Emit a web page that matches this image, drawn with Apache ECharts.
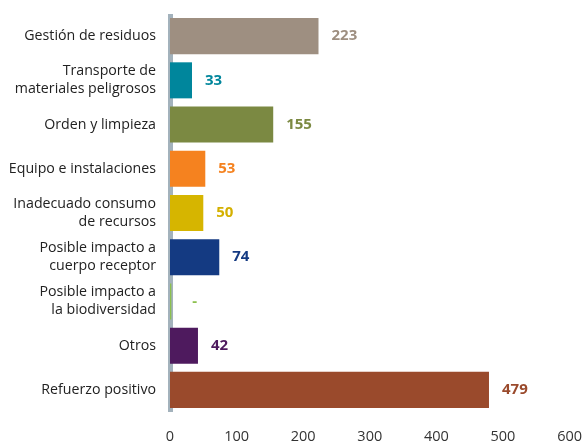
<!DOCTYPE html>
<html><head><meta charset="utf-8">
<script src="https://cdn.jsdelivr.net/npm/echarts@6/dist/echarts.min.js"></script>
<style>html,body{margin:0;padding:0;background:#fff}#c{width:585px;height:446px}</style>
</head><body><div id="c"></div>
<script>
const categories = ["Gestión de residuos","Transporte de\nmateriales peligrosos","Orden y limpieza","Equipo e instalaciones","Inadecuado consumo\nde recursos","Posible impacto a\ncuerpo receptor","Posible impacto a\nla biodiversidad","Otros","Refuerzo positivo"];
const values = [223,33,155,53,50,74,2,42,479];
const valueLabels = ["223","33","155","53","50","74","-","42","479"];
const barColors = ["#9e8f81","#00869c","#7b8942","#f5821f","#d6b500","#143a82","#8cc04e","#4e1a5e","#9a4a2c"];
const labelColors = ["#9e8f81","#00869c","#7b8942","#f5821f","#d4b000","#143a82","#8cc04e","#4e1a5e","#9a4a2c"];
const xTicks = [0,100,200,300,400,500,600];

const chart = echarts.init(document.getElementById('c'));
const font = "'Open Sans', 'Noto Sans', sans-serif";
chart.setOption({
  animation:false,
  grid:{left:170,right:13,top:14,bottom:34},
  xAxis:{type:'value',min:xTicks[0],max:xTicks[xTicks.length-1],interval:100,
    axisLine:{show:false},axisTick:{show:false},splitLine:{show:false},
    axisLabel:{margin:17,fontSize:14.5,color:'#333',fontFamily:font}},
  yAxis:{type:'category',inverse:true,data:categories,offset:4,
    axisLine:{show:true,lineStyle:{color:'#a3b2bc',width:5,cap:'butt'}},
    axisTick:{show:false},
    axisLabel:{margin:10,fontSize:14.2,lineHeight:18,color:'#222',fontFamily:font,align:'right'}},
  series:[{type:'bar',barCategoryGap:'18.5%',
    data:values.map((v,i)=>({value:v,itemStyle:{color:barColors[i]},
      label:{color:labelColors[i],distance:valueLabels[i]==='-'?21:13}})),
    label:{show:true,position:'right',fontSize:15,fontWeight:'bold',fontFamily:font,
      formatter:p=>valueLabels[p.dataIndex]}}]
});
</script></body></html>
